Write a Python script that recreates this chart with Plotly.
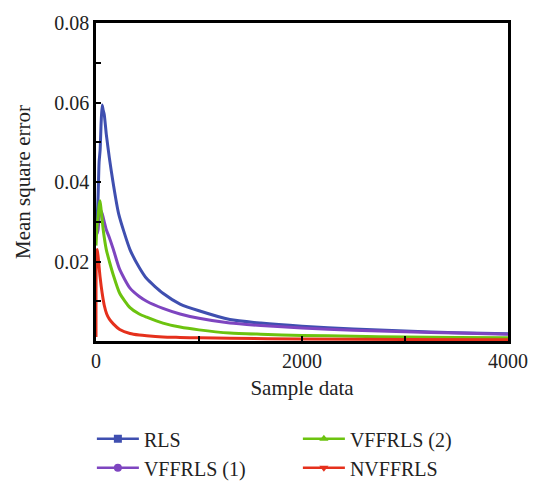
import plotly.graph_objects as go

# Data
rls_x = [0, 10, 20, 30, 40, 50, 60, 70, 80, 100, 130, 165, 220, 330, 420, 492, 650, 816, 1000, 1300, 1600, 2000, 2500, 3000, 3500, 4000]
rls_y = [0.030, 0.031, 0.036, 0.045, 0.048, 0.055, 0.0594, 0.058, 0.057, 0.052, 0.046, 0.040, 0.032, 0.023, 0.0185, 0.0157, 0.0120, 0.0093, 0.0076, 0.0054, 0.0045, 0.0037, 0.0030, 0.0025, 0.0021, 0.0018]

v1_x = [0, 10, 20, 30, 45, 60, 80, 100, 130, 168, 230, 330, 420, 492, 650, 816, 1000, 1300, 1600, 2000, 2500, 3000, 3500, 4000]
v1_y = [0.030, 0.027, 0.028, 0.031, 0.0329, 0.032, 0.030, 0.028, 0.026, 0.0231, 0.0180, 0.0133, 0.0112, 0.0100, 0.0082, 0.0068, 0.0057, 0.0045, 0.0039, 0.0033, 0.0027, 0.0023, 0.0020, 0.0017]

v2_x = [0, 10, 20, 30, 39, 50, 70, 100, 130, 168, 230, 330, 420, 492, 650, 816, 1000, 1300, 1600, 2000, 2500, 3000, 3500, 4000]
v2_y = [0.024, 0.029, 0.031, 0.034, 0.0353, 0.033, 0.028, 0.023, 0.020, 0.0166, 0.0120, 0.0084, 0.0068, 0.0060, 0.0045, 0.0035, 0.0028, 0.0020, 0.0017, 0.0014, 0.0012, 0.0010, 0.0009, 0.0008]

nv_x = [0, 5, 13, 25, 40, 60, 80, 104, 130, 168, 230, 330, 420, 492, 650, 816, 1000, 1300, 2000, 3000, 4000]
nv_y = [0.001, 0.022, 0.023, 0.020, 0.016, 0.012, 0.0090, 0.0068, 0.0055, 0.0043, 0.0029, 0.0019, 0.0015, 0.0013, 0.0010, 0.0009, 0.0008, 0.0007, 0.0005, 0.0004, 0.0003]

names = ["RLS", "VFFRLS (1)", "VFFRLS (2)", "NVFFRLS"]
legend_of = {"RLS": "legend", "VFFRLS (1)": "legend", "VFFRLS (2)": "legend2", "NVFFRLS": "legend2"}
colors = {"RLS": "#3f4fb0", "VFFRLS (1)": "#7e45c0", "VFFRLS (2)": "#6cc30f", "NVFFRLS": "#e5301c"}
symbols = {"RLS": "square", "VFFRLS (1)": "circle", "VFFRLS (2)": "triangle-up", "NVFFRLS": "triangle-down"}
series = {"RLS": (rls_x, rls_y), "VFFRLS (1)": (v1_x, v1_y), "VFFRLS (2)": (v2_x, v2_y), "NVFFRLS": (nv_x, nv_y)}

fig = go.Figure()
for n in names:
    x, y = series[n]
    fig.add_trace(go.Scatter(x=x, y=y, mode="lines", line=dict(color=colors[n], width=3, shape="spline", smoothing=0.6),
                             showlegend=False, hoverinfo="skip"))
for n in names:
    fig.add_trace(go.Scatter(x=[None], y=[None], mode="lines+markers", name=n, legend=legend_of[n],
                             line=dict(color=colors[n], width=2.5),
                             marker=dict(symbol=symbols[n], size=8, color=colors[n])))

font_family = "Liberation Serif, DejaVu Serif, serif"
leg_common = dict(orientation="v", yanchor="top", xanchor="left", yref="container", y=0.13,
                  itemwidth=42,
                  font=dict(size=20, family=font_family, color="#222"), tracegroupgap=0,
                  bgcolor="rgba(0,0,0,0)")
fig.update_layout(
    width=545, height=482,
    margin=dict(l=96, r=37, t=14, b=141),
    plot_bgcolor="white", paper_bgcolor="white",
    font=dict(family=font_family, size=20, color="#222"),
    showlegend=True,
    legend=dict(x=-0.01, **leg_common),
    legend2=dict(x=0.49, **leg_common),
)
fig.update_xaxes(range=[0, 4000], tickvals=[0, 2000, 4000], ticktext=["0", "2000", "4000"],
                 showline=True, linecolor="black", linewidth=2.5, mirror=True,
                 ticks="inside", ticklen=5, tickwidth=2, tickcolor="black",
                 minor=dict(tickvals=[1000, 3000], ticks="inside", ticklen=5, tickwidth=2, tickcolor="black"),
                 showgrid=False, zeroline=False,
                 title=dict(text="Sample data", font=dict(size=21), standoff=10))
fig.update_yaxes(range=[0, 0.08], tickvals=[0.02, 0.04, 0.06, 0.08], ticktext=["0.02", "0.04", "0.06", "0.08"],
                 showline=True, linecolor="black", linewidth=2.5, mirror=True,
                 ticks="inside", ticklen=5, tickwidth=2, tickcolor="black",
                 minor=dict(tickvals=[0.01, 0.03, 0.05, 0.07], ticks="inside", ticklen=5, tickwidth=2, tickcolor="black"),
                 showgrid=False, zeroline=False,
                 title=dict(text="Mean square error", font=dict(size=21), standoff=18))

fig.write_html("out.html")
